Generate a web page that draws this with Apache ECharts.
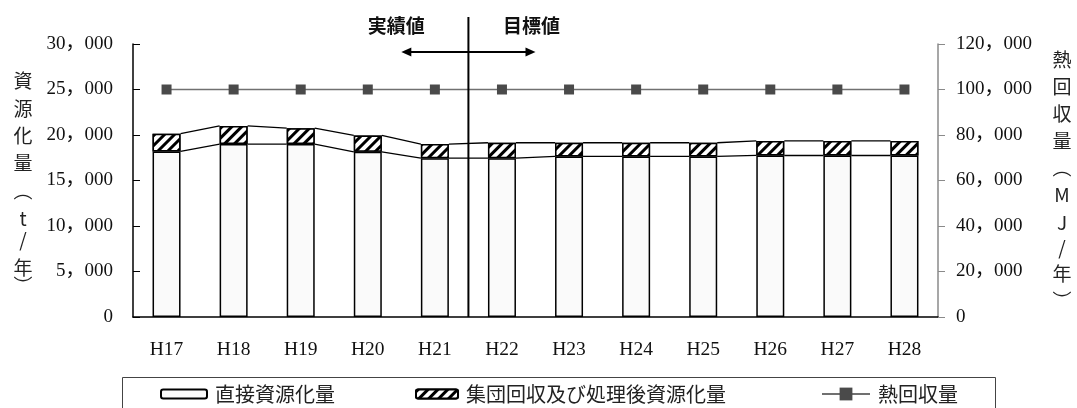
<!DOCTYPE html>
<html>
<head>
<meta charset="utf-8">
<script src="https://cdn.jsdelivr.net/npm/echarts@6/dist/echarts.min.js"></script>
<style>
  html, body { margin: 0; padding: 0; background: #fff; }
  #chart { width: 1077px; height: 408px; }
</style>
</head>
<body>
<div id="chart"></div>
<script>
// Fiscal years (Heisei)
const categories = ['H17', 'H18', 'H19', 'H20', 'H21', 'H22', 'H23', 'H24', 'H25', 'H26', 'H27', 'H28'];
// 直接資源化量 (t/年)
const directValues = [18200, 19000, 19000, 18150, 17450, 17450, 17650, 17650, 17650, 17750, 17750, 17750];
// 集団回収及び処理後資源化量 (t/年)
const groupValues = [1950, 2000, 1750, 1800, 1550, 1700, 1500, 1500, 1500, 1600, 1600, 1600];
// 熱回収量 (MJ/年)
const heatValues = [100000, 100000, 100000, 100000, 100000, 100000, 100000, 100000, 100000, 100000, 100000, 100000];

// Axis ranges
const leftAxisMax = 30000, leftAxisStep = 5000;
const rightAxisMax = 120000, rightAxisStep = 20000;

// Axis titles, drawn one character per row
const leftTitleChars = ['資', '源', '化', '量', '︵', 't', '/', '年', '︶'];
const rightTitleChars = ['熱', '回', '収', '量', '︵', 'M', 'J', '/', '年', '︶'];

// Period labels either side of the divider (last actual year index)
const actualLabel = '実績値';
const targetLabel = '目標値';
const lastActualIndex = 4;

const seriesNames = ['直接資源化量', '集団回収及び処理後資源化量', '熱回収量'];

const BAR_W = 28;
const numFont = "'Liberation Serif', 'Noto Sans CJK JP', serif";
const cjkFont = "'Noto Sans CJK JP', sans-serif";

function fmt(v) {
  return String(v).replace(/\B(?=(\d{3})+(?!\d))/g, '，');
}

const totals = directValues.map((d, i) => d + groupValues[i]);

// Rows for the connector lines between neighbouring bars
const connectorRows = [];
for (let i = 0; i < categories.length - 1; i++) {
  connectorRows.push([i, directValues[i], totals[i], directValues[i + 1], totals[i + 1]]);
}

const hatch = {
  symbol: 'rect',
  symbolSize: 1,
  dashArrayX: [1, 0],
  dashArrayY: [3, 4],
  rotation: -Math.PI / 4,
  color: '#000',
  backgroundColor: '#fff'
};

function titleGraphics(chars, cx, ys) {
  return chars.map((c, k) => ({
    type: 'text',
    x: cx,
    y: ys[k],
    silent: true,
    style: {
      text: c,
      fontSize: 19,
      fontFamily: cjkFont,
      fill: '#222',
      align: 'center',
      verticalAlign: 'middle'
    }
  }));
}

const chart = echarts.init(document.getElementById('chart'), null, { renderer: 'canvas' });

const legendBase = {
  top: 384,
  padding: 0,
  selectedMode: false,
  textStyle: { fontSize: 20, fontFamily: cjkFont, color: '#222', padding: [0, 0, 0, 3] }
};

chart.setOption({
  animation: false,
  backgroundColor: '#fff',
  grid: { left: 133, right: 139, top: 44, bottom: 91 },
  legend: [
    Object.assign({}, legendBase, { data: [seriesNames[0]], left: 160, itemWidth: 46, itemHeight: 9 }),
    Object.assign({}, legendBase, { data: [seriesNames[1]], left: 415, itemWidth: 42, itemHeight: 9 }),
    Object.assign({}, legendBase, { data: [seriesNames[2]], left: 821, itemWidth: 48, itemHeight: 16 })
  ],
  xAxis: {
    type: 'category',
    data: categories,
    boundaryGap: true,
    axisLine: { lineStyle: { color: '#000', width: 1.5 } },
    axisTick: { inside: true, length: 7, lineStyle: { color: '#000', width: 1 } },
    axisLabel: { margin: 23, fontSize: 19.5, fontFamily: numFont, color: '#111' },
    splitLine: { show: false }
  },
  yAxis: [
    {
      type: 'value',
      min: 0,
      max: leftAxisMax,
      interval: leftAxisStep,
      axisLine: { show: true, lineStyle: { color: '#000', width: 1.5 } },
      axisTick: { show: true, inside: true, length: 7, lineStyle: { color: '#000' } },
      axisLabel: { margin: 20, fontSize: 19, fontFamily: numFont, color: '#111', formatter: fmt },
      splitLine: { show: false }
    },
    {
      type: 'value',
      min: 0,
      max: rightAxisMax,
      interval: rightAxisStep,
      position: 'right',
      axisLine: { show: true, lineStyle: { color: '#8a8a8a', width: 1.5 } },
      axisTick: { show: true, inside: false, length: 7, lineStyle: { color: '#8a8a8a' } },
      axisLabel: { margin: 18, fontSize: 19, fontFamily: numFont, color: '#111', formatter: fmt },
      splitLine: { show: false }
    }
  ],
  graphic: [
    {
      type: 'rect',
      silent: true,
      shape: { x: 122.5, y: 377.5, width: 873, height: 40 },
      style: { fill: 'none', stroke: '#444', lineWidth: 1 }
    }
  ]
    .concat(titleGraphics(leftTitleChars, 23, [81, 109, 136, 163, 191, 219, 240, 268, 286]))
    .concat(titleGraphics(rightTitleChars, 1062, [60, 87, 114, 141, 168, 195, 223, 248, 274, 301])),
  series: [
    {
      name: seriesNames[0],
      type: 'bar',
      stack: 'recycle',
      barWidth: BAR_W,
      data: directValues,
      itemStyle: { color: '#fafafa', borderColor: '#000', borderWidth: 1.5 },
      z: 3
    },
    {
      name: seriesNames[1],
      type: 'bar',
      stack: 'recycle',
      barWidth: BAR_W,
      data: groupValues,
      itemStyle: { color: '#fff', borderColor: '#000', borderWidth: 1.5, decal: hatch },
      z: 3
    },
    {
      name: seriesNames[2],
      type: 'line',
      yAxisIndex: 1,
      data: heatValues,
      symbol: 'rect',
      symbolSize: 10,
      itemStyle: { color: '#4a4a4a' },
      lineStyle: { color: '#707070', width: 1.5 },
      z: 5
    },
    {
      // connector lines joining the tops of neighbouring stacks
      type: 'custom',
      silent: true,
      z: 2,
      data: connectorRows,
      encode: { x: 0, y: 1 },
      renderItem: function (params, api) {
        const i = api.value(0);
        const half = BAR_W / 2;
        const a1 = api.coord([i, api.value(1)]);
        const a2 = api.coord([i + 1, api.value(3)]);
        const b1 = api.coord([i, api.value(2)]);
        const b2 = api.coord([i + 1, api.value(4)]);
        const st = { stroke: '#000', lineWidth: 1.3 };
        return {
          type: 'group',
          children: [
            { type: 'line', shape: { x1: a1[0] + half, y1: a1[1], x2: a2[0] - half, y2: a2[1] }, style: st },
            { type: 'line', shape: { x1: b1[0] + half, y1: b1[1], x2: b2[0] - half, y2: b2[1] }, style: st }
          ]
        };
      }
    },
    {
      // divider between actual and target years with its arrow and labels
      type: 'custom',
      silent: true,
      clip: false,
      z: 6,
      data: [[lastActualIndex, 0]],
      encode: { x: 0, y: 1 },
      renderItem: function (params, api) {
        const k = api.value(0);
        const p = (j) => api.coord([j, 0]);
        const xd = (p(k)[0] + p(k + 1)[0]) / 2;
        const xl = (p(k - 1)[0] + p(k)[0]) / 2;
        const xr = (p(k + 1)[0] + p(k + 2)[0]) / 2;
        const yb = p(k)[1];
        const yTop = 17, yArrow = 52, yText = 26;
        const ah = 10, aw = 4.5;
        const textStyle = (t, x) => ({
          type: 'text',
          style: {
            text: t, x: x, y: yText,
            fontSize: 19, fontWeight: 'bold', fontFamily: cjkFont,
            fill: '#111', align: 'center', verticalAlign: 'middle'
          }
        });
        return {
          type: 'group',
          children: [
            { type: 'line', shape: { x1: xd, y1: yTop, x2: xd, y2: yb }, style: { stroke: '#000', lineWidth: 2 } },
            { type: 'line', shape: { x1: xl + ah - 1, y1: yArrow, x2: xr - ah + 1, y2: yArrow }, style: { stroke: '#000', lineWidth: 2 } },
            { type: 'polygon', shape: { points: [[xl, yArrow], [xl + ah, yArrow - aw], [xl + ah, yArrow + aw]] }, style: { fill: '#000' } },
            { type: 'polygon', shape: { points: [[xr, yArrow], [xr - ah, yArrow - aw], [xr - ah, yArrow + aw]] }, style: { fill: '#000' } },
            textStyle(actualLabel, xl - 5),
            textStyle(targetLabel, xr - 4)
          ]
        };
      }
    }
  ]
});
</script>
</body>
</html>
